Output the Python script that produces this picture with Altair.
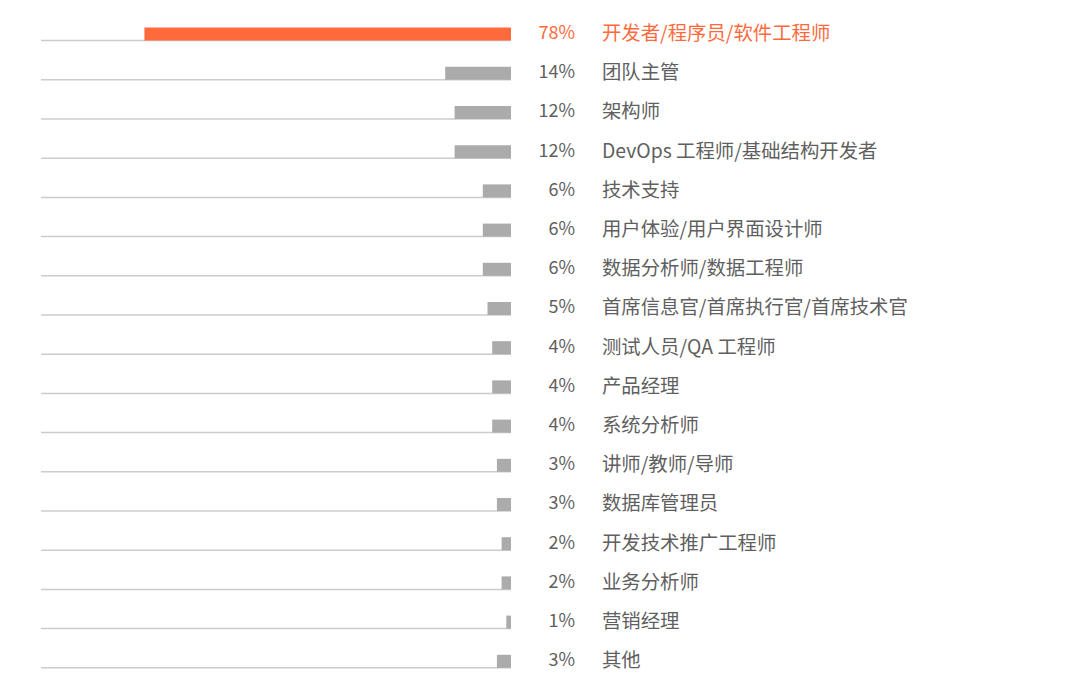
import altair as alt
import pandas as pd

roles = ["开发者/程序员/软件工程师", "团队主管", "架构师", "DevOps 工程师/基础结构开发者",
         "技术支持", "用户体验/用户界面设计师", "数据分析师/数据工程师",
         "首席信息官/首席执行官/首席技术官", "测试人员/QA 工程师", "产品经理", "系统分析师",
         "讲师/教师/导师", "数据库管理员", "开发技术推广工程师", "业务分析师", "营销经理", "其他"]
shares = [78, 14, 12, 12, 6, 6, 6, 5, 4, 4, 4, 3, 3, 2, 2, 1, 3]
highlight = [True] + [False] * 16

df = pd.DataFrame({"role": roles, "share": shares, "hl": highlight})
df["pct"] = df["share"].astype(str) + "%"

ORANGE = "#FF6A3D"
GRAY_BAR = "#ABABAB"
TEXT = "#5F5F5F"
FONT = "Noto Sans CJK SC"

step = 39.2
y = alt.Y("role:N", sort=roles, axis=None,
          scale=alt.Scale(paddingInner=0, paddingOuter=0))
xs = alt.Scale(domain=[0, 100], reverse=True, nice=False, zero=True)

base = alt.Chart(df)

line = base.mark_rule(color="#CCCCCC", strokeWidth=1.5, yOffset=6.5).encode(
    y=y, x=alt.value(0), x2=alt.value(470))

bars = base.mark_bar(size=13).encode(
    y=y,
    x=alt.X("share:Q", scale=xs, axis=None),
    color=alt.condition("datum.hl", alt.value(ORANGE), alt.value(GRAY_BAR)),
)

pct = base.mark_text(align="right", baseline="middle", font=FONT, fontSize=18).encode(
    y=y, x=alt.value(534), text="pct:N",
    color=alt.condition("datum.hl", alt.value(ORANGE), alt.value(TEXT)),
)

lab = base.mark_text(align="left", baseline="middle", font=FONT, fontSize=19.4).encode(
    y=y, x=alt.value(561), text="role:N",
    color=alt.condition("datum.hl", alt.value(ORANGE), alt.value(TEXT)),
)

chart = alt.layer(line, bars, pct, lab).properties(
    width=470, height=alt.Step(step),
    padding={"left": 40, "top": 14.5, "right": 0, "bottom": 0},
).configure(background="white").configure_view(strokeWidth=0, stroke="transparent")

chart.save("out.html", embed_options={"renderer": "svg", "actions": False})
